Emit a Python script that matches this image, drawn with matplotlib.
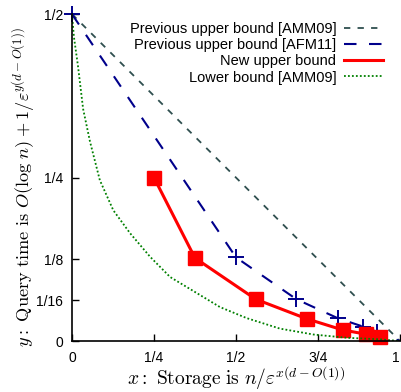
import numpy as np
import matplotlib.pyplot as plt

plt.rcParams['mathtext.fontset'] = 'cm'
plt.rcParams['font.family'] = ['Liberation Sans', 'DejaVu Sans']

# previous upper bound [AMM09] (straight line)
amm09_x = [0.0, 1.0]
amm09_y = [0.5, 0.0]

# previous upper bound [AFM11]
afm11_x = [0.0, 0.5, 0.684, 0.81, 0.888, 0.93, 1.0]
afm11_y = [0.5, 0.128, 0.064, 0.035, 0.022, 0.014, 0.0]

# new upper bound
new_x = [0.25, 0.375, 0.56, 0.716, 0.825, 0.896, 0.939]
new_y = [0.25, 0.127, 0.064, 0.034, 0.017, 0.0105, 0.0068]

# lower bound [AMM09]
low_x = [0.0, 0.006, 0.018, 0.034, 0.055, 0.085, 0.126, 0.177, 0.238,
         0.299, 0.385, 0.451, 0.533, 0.634, 0.736, 0.838, 0.939, 1.0]
low_y = [0.5, 0.465, 0.422, 0.355, 0.305, 0.246, 0.200, 0.165, 0.129,
         0.098, 0.072, 0.052, 0.035, 0.019, 0.010, 0.005, 0.0026, 0.0]

xticks = [0, 0.25, 0.5, 0.75, 1]
xticklabels = ['0', '1/4', '1/2', '3/4', '1']
yticks = [0, 1/16, 1/8, 1/4, 1/2]
yticklabels = ['0', '1/16', '1/8', '1/4', '1/2']

fig = plt.figure(figsize=(4.02, 3.92), dpi=100)
ax = fig.add_axes([0.179, 0.130, 0.816, 0.834])

ax.plot(amm09_x, amm09_y, color='#2f4f4f', lw=1.3, dashes=(3.5, 4),
        label='Previous upper bound [AMM09]')
ax.plot(afm11_x, afm11_y, color='#00008b', lw=1.5, dashes=(6, 6),
        label='Previous upper bound [AFM11]')
# markers for AFM11 (not in legend)
ax.plot(afm11_x[:-1], afm11_y[:-1], ls='none', marker='+', ms=11, mew=1.4,
        color='#00008b', clip_on=False)
ax.plot(new_x, new_y, color='red', lw=2.2, label='New upper bound')
ax.plot(new_x, new_y, ls='none', marker='s', ms=10, color='red', clip_on=False)
ax.plot(low_x, low_y, color='green', lw=1.3, ls=(0, (1, 1.2)),
        label='Lower bound [AMM09]')

ax.set_xlim(0, 1)
ax.set_ylim(0, 0.5)
ax.set_xticks(xticks)
ax.set_xticklabels(xticklabels, fontsize=10)
ax.get_xticklabels()[-1].set_ha('right')
ax.set_yticks(yticks)
ax.set_yticklabels(yticklabels, fontsize=10)
ax.tick_params(direction='in', length=5, width=1)
ax.tick_params(axis='x', pad=7)
ax.tick_params(axis='y', pad=6.5)
ax.spines['top'].set_visible(False)
ax.spines['right'].set_visible(False)
ax.spines['left'].set_linewidth(1.2)
ax.spines['bottom'].set_linewidth(1.2)

ax.set_xlabel(r'$x\mathrm{:\ Storage\ is\ }n/\varepsilon^{x(d-O(1))}$',
              fontsize=14)
ax.set_ylabel(r'$y\mathrm{:\ Query\ time\ is\ }O(\log\, n)+1/\varepsilon^{y(d-O(1))}$',
              fontsize=13.2)
ax.xaxis.set_label_coords(0.5, -0.07)
ax.yaxis.set_label_coords(-0.107, 0.47)

ax.legend(loc='upper right', bbox_to_anchor=(0.948, 0.976), frameon=False,
          markerfirst=False, fontsize=10.5, handlelength=2.7, handletextpad=0.5,
          labelspacing=0.15, borderaxespad=0, borderpad=0)

fig.savefig('out.png', dpi=100)
